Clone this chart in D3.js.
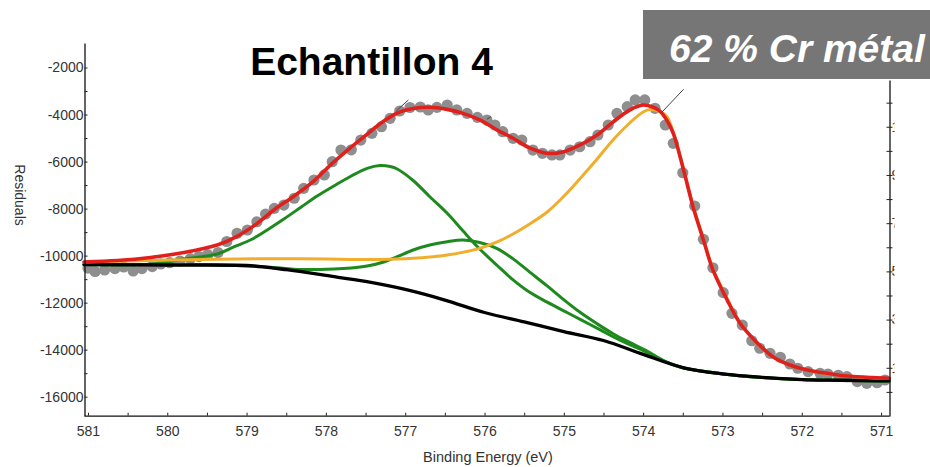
<!DOCTYPE html>
<html>
<head>
<meta charset="utf-8">
<script src="https://cdn.jsdelivr.net/npm/d3@7"></script>
<style>
  html, body { margin: 0; padding: 0; background: #fff; }
  svg { display: block; font-family: "Liberation Sans", Arial, sans-serif; }
</style>
</head>
<body>
<svg id="chart" width="930" height="467"></svg>
<script>
// ---------------- DATA ----------------
const titleText = "Echantillon 4";
const badgeText = "62 % Cr métal";
const xLabel = "Binding Energy (eV)";
const yLabel = "Residuals";

const xMajorTicks = [581, 580, 579, 578, 577, 576, 575, 574, 573, 572, 571];
const xMinorTicks = [580.5, 579.5, 578.5, 577.5, 576.5, 575.5, 574.5, 573.5, 572.5, 571.5];
const yMajorTicks = [-2000, -4000, -6000, -8000, -10000, -12000, -14000, -16000];
const yMinorTicks = [-3000, -5000, -7000, -9000, -11000, -13000, -15000];
const rightTicks = [0, 100, 200, 300, 400, 500, 600, 700, 800, 900, 1000, 1100, 1200];
const rightLabels = ["1100", "900", "700", "500", "300", "100"];

// measured points (binding energy, counts)
const dotsEV = [581.00,580.91,580.79,580.66,580.55,580.43,580.32,580.19,580.08,579.97,579.84,579.71,579.60,579.49,579.36,579.25,579.12,578.99,578.87,578.76,578.65,578.53,578.40,578.28,578.15,578.02,577.92,577.81,577.68,577.56,577.42,577.30,577.19,577.07,576.94,576.81,576.71,576.60,576.47,576.35,576.22,576.09,575.97,575.87,575.77,575.64,575.53,575.39,575.27,575.15,575.05,574.92,574.80,574.67,574.57,574.44,574.33,574.20,574.10,573.98,573.85,573.72,573.62,573.50,573.35,573.24,573.12,572.99,572.88,572.75,572.63,572.53,572.40,572.27,572.15,572.05,571.92,571.77,571.67,571.54,571.43,571.30,571.18,571.05,570.95];
const dotsVal = [-10530,-10675,-10610,-10550,-10485,-10655,-10550,-10465,-10355,-10300,-10230,-10130,-10040,-9960,-9870,-9400,-9050,-8910,-8560,-8230,-7990,-7850,-7560,-7140,-6785,-6570,-6005,-5510,-5500,-5085,-4800,-4520,-4160,-3850,-3700,-3680,-3805,-3695,-3595,-3805,-3950,-4120,-4235,-4445,-4730,-5010,-5085,-5510,-5650,-5720,-5720,-5510,-5370,-5155,-4870,-4445,-3950,-3665,-3380,-3380,-3735,-4445,-5225,-6475,-7890,-9305,-10515,-11575,-12455,-12950,-13620,-13940,-14155,-14325,-14610,-14790,-14935,-15005,-15035,-15090,-15150,-15360,-15430,-15405,-15290];

// background (black)
const bgEV  = [581.05,581.00,580.00,579.00,578.74,578.50,578.31,578.00,577.50,577.00,576.50,576.00,575.50,575.00,574.50,574.00,573.50,573.00,572.50,572.00,571.50,571.00,570.90];
const bgVal = [-10380,-10380,-10400,-10420,-10500,-10600,-10685,-10845,-11100,-11440,-11890,-12420,-12820,-13230,-13610,-14200,-14760,-15030,-15180,-15270,-15300,-15330,-15330];

// green component 1 (~577.3 eV)
const g1EV  = [581.05,580.22,579.79,579.37,579.16,578.94,578.74,578.53,578.31,578.11,577.90,577.68,577.48,577.32,577.19,577.10,576.90,576.69,576.47,576.27,576.06,575.84,575.64,575.43,575.21,574.96,574.80,574.54,574.38,574.17,573.98,573.70,573.50,573.00,572.50,572.00,571.50,571.00,570.90];
const g1Val = [-10380,-10370,-10140,-9930,-9630,-9315,-8910,-8445,-7930,-7465,-7040,-6615,-6290,-6170,-6210,-6315,-6805,-7495,-8200,-8955,-9720,-10420,-11030,-11560,-11980,-12420,-12700,-13160,-13450,-13790,-14070,-14540,-14770,-15030,-15180,-15270,-15300,-15330,-15330];

// green component 2 (~576.2 eV)
const g2EV  = [581.05,579.37,578.74,578.31,577.90,577.68,577.48,577.27,577.10,576.90,576.69,576.47,576.27,576.06,575.84,575.64,575.43,575.21,575.01,574.80,574.58,574.38,574.17,573.98,573.70,573.50,573.00,572.50,572.00,571.50,571.00,570.90];
const g2Val = [-10380,-10395,-10480,-10590,-10570,-10525,-10440,-10270,-10045,-9760,-9550,-9410,-9340,-9440,-9700,-10140,-10700,-11290,-11850,-12400,-12900,-13320,-13690,-14010,-14530,-14770,-15030,-15180,-15270,-15300,-15330,-15330];

// orange component (Cr metal)
const orEV  = [581.05,580.22,579.59,578.33,577.32,576.90,576.47,576.06,575.84,575.64,575.43,575.21,575.01,574.80,574.58,574.38,574.17,574.00,573.91,573.79,573.70,573.62,573.50,573.37,573.24,573.12,572.94,572.78,572.56,572.36,572.15,571.93,571.68,571.43,571.10,570.90];
const orVal = [-10270,-10210,-10165,-10130,-10165,-10115,-9975,-9690,-9420,-9080,-8655,-8145,-7510,-6740,-5890,-5080,-4360,-3890,-3790,-3880,-4090,-4745,-6190,-7890,-9295,-10570,-11845,-12845,-13715,-14310,-14650,-14865,-15015,-15120,-15205,-15225];

// total envelope (red)
const fitEV  = [581.05,580.63,580.21,579.79,579.37,579.12,578.87,578.64,578.39,578.15,577.92,577.70,577.51,577.32,577.10,576.90,576.69,576.47,576.27,576.06,575.84,575.64,575.43,575.21,575.01,574.80,574.58,574.38,574.17,574.00,573.88,573.79,573.70,573.62,573.50,573.37,573.24,573.12,572.94,572.78,572.56,572.36,572.15,571.93,571.68,571.43,571.10,570.90];
const fitVal = [-10270,-10210,-10080,-9870,-9550,-9180,-8640,-8020,-7440,-6820,-6080,-5440,-4920,-4400,-3935,-3745,-3690,-3780,-3950,-4230,-4660,-5010,-5420,-5650,-5590,-5300,-4870,-4320,-3810,-3595,-3680,-3850,-4250,-4800,-6230,-7930,-9335,-10610,-11890,-12865,-13715,-14310,-14650,-14865,-15005,-15120,-15190,-15215];

// leader lines (annotation pointers) [ev1, val1, ev2, val2]
const leaders = [
  [577.11, -3837, 576.96, -3382],
  [575.97, -4203, 575.92, -4092],
  [573.77, -3922, 573.49, -2927]
];

// ---------------- DRAW ----------------
const svg = d3.select("#chart");
const W = 930, H = 467;

const x = d3.scaleLinear().domain([581.05, 570.9]).range([84, 889]);
const y = d3.scaleLinear().domain([-16808, -958]).range([415.7, 43]);
const yR = d3.scaleLinear().domain([-100, 1294]).range([416, 80]);

const zip = (a, b) => a.map((v, i) => [v, b[i]]);
const line = d3.line().x(d => x(d[0])).y(d => y(d[1])).curve(d3.curveCatmullRom.alpha(0.5));

// dots
svg.append("g").selectAll("circle").data(zip(dotsEV, dotsVal)).join("circle")
  .attr("cx", d => x(d[0])).attr("cy", d => y(d[1])).attr("r", 5.6)
  .attr("fill", "#8e8e8e");

const curves = [
  {d: zip(g1EV, g1Val), c: "#1e8a1e", w: 3},
  {d: zip(g2EV, g2Val), c: "#1e8a1e", w: 3},
  {d: zip(bgEV, bgVal), c: "#000000", w: 3.3},
  {d: zip(orEV, orVal), c: "#f0ae2c", w: 3},
  {d: zip(fitEV, fitVal), c: "#e0201c", w: 3.6}
];
curves.forEach(cv => {
  svg.append("path").datum(cv.d).attr("d", line)
    .attr("fill", "none").attr("stroke", cv.c).attr("stroke-width", cv.w)
    .attr("stroke-linejoin", "round").attr("stroke-linecap", "round");
});

// leaders
svg.append("g").selectAll("line").data(leaders).join("line")
  .attr("x1", d => x(d[0])).attr("y1", d => y(d[1]))
  .attr("x2", d => x(d[2])).attr("y2", d => y(d[3]))
  .attr("stroke", "#444").attr("stroke-width", 1);

// left axis
const gy = svg.append("g").attr("transform", "translate(84.5,0)")
  .call(d3.axisLeft(y).tickValues(yMajorTicks).tickSizeInner(-3).tickSizeOuter(0).tickPadding(1).tickFormat(d => String(d)));
svg.append("g").attr("transform", "translate(84.5,0)")
  .call(d3.axisLeft(y).tickValues(yMinorTicks).tickSizeInner(-3).tickSizeOuter(0).tickFormat(""))
  .select(".domain").remove();

// bottom axis
const gx = svg.append("g").attr("transform", "translate(0,415.7)")
  .call(d3.axisBottom(x).tickValues(xMajorTicks).tickSizeInner(-3).tickSizeOuter(0).tickPadding(10).tickFormat(d => String(d)));
svg.append("g").attr("transform", "translate(0,415.7)")
  .call(d3.axisBottom(x).tickValues(xMinorTicks).tickSizeInner(-3).tickSizeOuter(0).tickFormat(""))
  .select(".domain").remove();

[gy, gx].forEach(g => {
  g.select(".domain").attr("stroke", "#111").attr("stroke-width", 1.3);
  g.selectAll(".tick text").attr("font-size", 14).attr("fill", "#333")
    .attr("font-family", "'Liberation Sans', Arial, sans-serif");
});
svg.selectAll(".tick line").attr("stroke", "#222");

// right (residual) axis, labels clipped at the image edge
const gr = svg.append("g").attr("transform", "translate(889.5,0)")
  .call(d3.axisRight(yR).tickValues(rightTicks).tickSizeInner(3).tickSizeOuter(0).tickFormat(""));
gr.select(".domain").attr("stroke", "#111").attr("stroke-width", 1.3);
gr.selectAll(".tick line").attr("x1", -3).attr("stroke", "#222");
svg.append("clipPath").attr("id", "rclip").append("rect")
  .attr("x", 890.5).attr("y", 0).attr("width", 4).attr("height", H);
svg.append("g").attr("clip-path", "url(#rclip)").selectAll("text")
  .data(rightLabels).join("text")
  .attr("x", 891.5).attr("y", d => yR(+d)).attr("dy", "0.35em")
  .attr("font-size", 14).attr("fill", "#333").text(d => d);

// axis titles
svg.append("text").attr("x", 488).attr("y", 462).attr("text-anchor", "middle")
  .attr("font-size", 14.5).attr("fill", "#333").text(xLabel);
svg.append("text").attr("transform", "translate(15,195) rotate(90)")
  .attr("text-anchor", "middle").attr("font-size", 14).attr("fill", "#333").text(yLabel);

// title
svg.append("text").attr("x", 371.5).attr("y", 75).attr("text-anchor", "middle")
  .attr("font-size", 39).attr("font-weight", "bold").attr("fill", "#000").text(titleText);

// badge
svg.append("rect").attr("x", 643).attr("y", 10).attr("width", W - 643).attr("height", 69)
  .attr("fill", "#767676");
svg.append("text").attr("x", 669).attr("y", 61.5)
  .attr("font-size", 39).attr("font-weight", "bold").attr("font-style", "italic")
  .attr("fill", "#fff").text(badgeText);
</script>
</body>
</html>
